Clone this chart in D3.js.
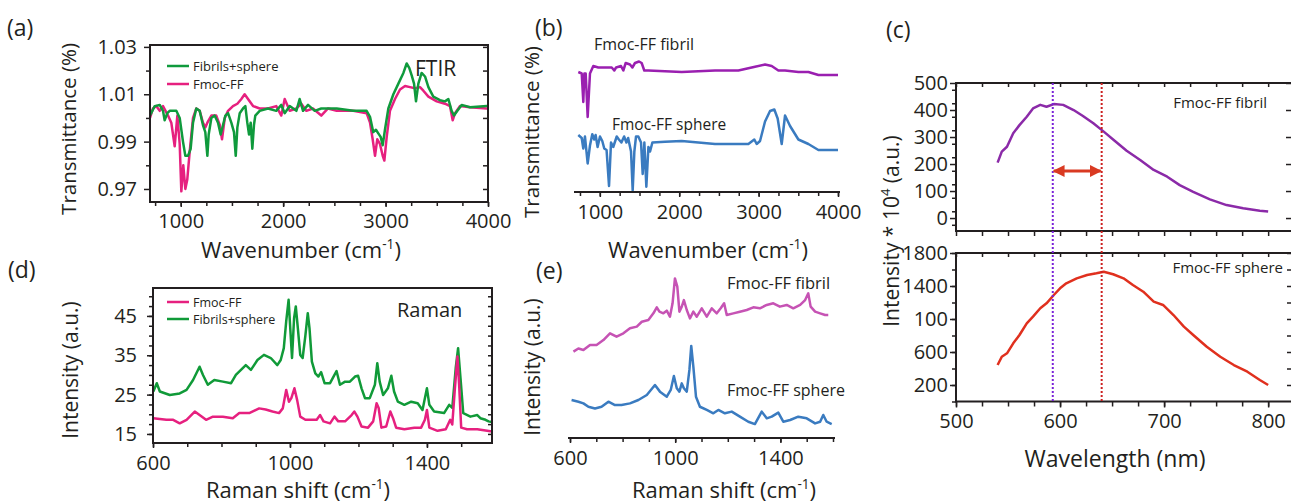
<!DOCTYPE html>
<html>
<head>
<meta charset="utf-8">
<script src="https://cdn.jsdelivr.net/npm/d3@7"></script>
<style>
  body { margin: 0; background: #fff; }
  text { font-family: "Open Sans", sans-serif; fill: #231f20; }
</style>
</head>
<body>
<div id="chart"></div>
<script>
// ---- data ----
// (a) FTIR, wavenumber vs transmittance
const ftirFmoc = [[700,1.000],[729,1.004],[761,1.005],[795,1.003],[827,1.005],[876,1.001],[908,0.998],[941,0.988],[967,1.001],[990,0.989],[1006,0.969],[1025,0.980],[1045,0.970],[1064,0.974],[1088,0.986],[1120,1.000],[1152,1.004],[1185,1.003],[1217,0.998],[1240,0.996],[1260,0.998],[1299,1.001],[1347,1.001],[1381,0.997],[1403,0.991],[1430,1.000],[1462,1.003],[1510,1.005],[1553,1.006],[1592,1.008],[1624,1.010],[1657,1.008],[1706,1.005],[1771,1.004],[1852,1.004],[1933,1.005],[1982,1.001],[2015,1.008],[2064,1.003],[2129,1.004],[2177,1.006],[2226,1.003],[2291,1.004],[2372,1.001],[2438,1.004],[2523,1.003],[2685,1.003],[2815,1.002],[2848,0.998],[2874,0.991],[2897,0.984],[2919,0.991],[2945,0.989],[2972,0.984],[2988,0.982],[3011,0.992],[3043,1.003],[3092,1.008],[3141,1.012],[3190,1.0135],[3238,1.013],[3287,1.0125],[3336,1.013],[3369,1.0115],[3418,1.009],[3499,1.007],[3580,1.006],[3629,1.005],[3655,0.999],[3678,1.002],[3727,1.005],[3824,1.0045],[3987,1.004],[4000,1.004]];
const ftirMix = [[700,1.001],[746,1.005],[795,1.0055],[827,1.003],[843,0.999],[869,1.002],[892,1.003],[924,1.003],[957,1.003],[990,1.000],[1022,0.990],[1045,0.984],[1071,0.984],[1097,0.987],[1120,0.998],[1152,1.004],[1185,1.003],[1217,0.997],[1240,0.994],[1260,0.984],[1273,0.993],[1299,1.000],[1331,1.001],[1364,0.998],[1390,0.993],[1413,0.997],[1436,1.001],[1462,1.002],[1494,0.998],[1520,0.994],[1537,0.984],[1553,0.996],[1576,1.002],[1608,1.004],[1631,1.005],[1650,0.998],[1667,0.993],[1683,0.998],[1699,0.987],[1715,0.997],[1728,1.001],[1771,1.003],[1852,1.004],[1933,1.003],[1982,1.0055],[2015,1.002],[2064,1.005],[2129,1.003],[2161,1.008],[2194,1.003],[2243,1.0055],[2308,1.003],[2372,1.004],[2523,1.004],[2685,1.003],[2815,1.003],[2848,1.0005],[2880,0.994],[2906,0.995],[2929,0.9935],[2952,0.992],[2972,0.9885],[2994,0.995],[3027,1.004],[3076,1.010],[3125,1.0145],[3174,1.019],[3206,1.023],[3232,1.021],[3255,1.018],[3278,1.0145],[3297,1.007],[3320,1.0145],[3352,1.019],[3385,1.0175],[3418,1.013],[3466,1.009],[3531,1.0075],[3580,1.007],[3613,1.008],[3645,1.003],[3668,1.001],[3701,1.003],[3743,1.0055],[3824,1.0045],[3987,1.005],[4000,1.005]];

// (b) FTIR, offset traces (arbitrary units)
const ftirFibril = [[729,0.80],[772,0.79],[792,0.60],[805,0.79],[822,0.79],[847,0.50],[876,0.79],[918,0.84],[981,0.83],[1150,0.83],[1182,0.81],[1205,0.83],[1267,0.84],[1296,0.81],[1326,0.86],[1380,0.85],[1410,0.83],[1443,0.86],[1494,0.87],[1527,0.86],[1560,0.81],[1611,0.81],[2031,0.80],[2451,0.81],[2745,0.81],[2913,0.83],[3081,0.85],[3165,0.84],[3249,0.81],[3333,0.81],[3501,0.80],[3627,0.80],[3753,0.78],[4000,0.78]];
const ftirSphere = [[729,0.38],[772,0.36],[792,0.29],[813,0.37],[847,0.19],[876,0.31],[905,0.385],[930,0.35],[947,0.38],[972,0.30],[1002,0.37],[1031,0.34],[1056,0.29],[1085,0.28],[1116,0.04],[1141,0.33],[1169,0.30],[1213,0.37],[1240,0.35],[1272,0.33],[1306,0.37],[1335,0.33],[1357,0.36],[1393,0.27],[1414,0.01],[1435,0.27],[1456,0.37],[1485,0.37],[1519,0.33],[1540,0.12],[1561,0.33],[1586,0.035],[1612,0.30],[1633,0.27],[1662,0.33],[1821,0.335],[2031,0.34],[2241,0.33],[2451,0.32],[2661,0.32],[2871,0.32],[2946,0.35],[2976,0.32],[3018,0.34],[3081,0.47],[3144,0.54],[3198,0.55],[3240,0.49],[3291,0.32],[3333,0.51],[3396,0.44],[3501,0.35],[3627,0.32],[3753,0.28],[4000,0.28]];

// (c) fluorescence, wavelength (nm) vs intensity
const flFibril = [[540,205],[544,246],[549,264],[555,314],[561,344],[568,375],[574,406],[581,419],[587,412],[594,422],[603,419],[613,400],[622,378],[632,351],[642,320],[651,291],[664,249],[677,215],[690,178],[703,153],[715,122],[728,97],[744,69],[760,48],[776,36],[792,27],[800,24]];
const flSphere = [[540,442],[544,543],[549,584],[555,705],[561,806],[568,948],[574,1028],[581,1130],[587,1190],[594,1291],[600,1372],[606,1433],[616,1493],[626,1533],[635,1554],[642,1573],[651,1542],[661,1493],[670,1412],[680,1331],[690,1210],[699,1170],[709,1048],[719,907],[728,806],[741,664],[754,543],[767,442],[780,361],[792,261],[800,200]];
const peakFibril = 593, peakSphere = 640;

// (d) Raman shift vs intensity
const ramanFmoc = [[601,19.0],[639,18.6],[659,18.6],[678,17.7],[698,18.6],[722,20.7],[736,19.8],[755,18.6],[775,19.4],[804,19.4],[833,19.0],[852,20.3],[881,20.3],[910,21.5],[929,21.2],[949,20.7],[968,20.3],[979,21.5],[989,26.2],[997,23.2],[1004,24.1],[1013,26.6],[1021,23.6],[1030,19.4],[1045,18.6],[1064,18.6],[1078,18.6],[1088,19.8],[1098,18.2],[1117,17.7],[1130,19.4],[1141,18.2],[1161,18.2],[1180,19.8],[1188,20.7],[1197,19.4],[1209,16.9],[1228,16.6],[1243,18.2],[1253,22.8],[1259,21.6],[1267,16.6],[1281,16.9],[1293,20.7],[1301,19.0],[1310,16.6],[1334,16.2],[1363,16.6],[1383,16.6],[1394,18.6],[1400,21.1],[1407,16.6],[1431,15.8],[1455,16.2],[1468,18.6],[1474,17.4],[1481,25.8],[1489,34.7],[1494,27.5],[1500,16.6],[1517,16.2],[1547,16.2],[1576,15.8],[1590,15.6]];
const ramanMix = [[601,25.8],[611,27.9],[620,25.8],[649,24.9],[678,25.3],[698,26.2],[717,28.7],[736,32.1],[746,30.0],[760,27.5],[779,28.7],[804,28.3],[828,27.9],[842,30.0],[871,32.5],[886,31.3],[905,33.8],[924,35.1],[944,34.3],[963,32.5],[973,33.8],[982,36.8],[989,43.6],[996,49.1],[1002,40.2],[1006,34.3],[1012,44.4],[1017,47.4],[1023,41.9],[1030,35.1],[1037,34.3],[1045,40.0],[1052,45.7],[1057,41.9],[1064,33.4],[1074,30.4],[1083,29.6],[1091,30.7],[1101,27.9],[1117,27.9],[1130,30.0],[1136,31.0],[1146,27.5],[1161,28.3],[1175,28.3],[1190,29.6],[1199,29.8],[1209,26.6],[1219,24.1],[1233,24.1],[1248,27.5],[1255,33.0],[1262,28.3],[1272,24.9],[1286,26.6],[1296,29.8],[1304,25.8],[1315,23.2],[1334,22.4],[1354,23.2],[1373,22.8],[1387,21.1],[1400,26.6],[1407,22.4],[1421,20.7],[1450,20.3],[1465,22.4],[1474,21.6],[1484,31.7],[1491,36.8],[1498,29.2],[1506,20.3],[1527,19.4],[1547,19.8],[1556,19.0],[1571,18.6],[1580,18.2],[1590,18.0]];

// (e) Raman, offset traces (arbitrary units)
const ramanFibril = [[613,0.514],[632,0.533],[651,0.524],[676,0.554],[701,0.554],[727,0.583],[752,0.623],[777,0.603],[803,0.623],[828,0.653],[854,0.663],[873,0.692],[898,0.702],[917,0.742],[930,0.778],[940,0.752],[955,0.742],[968,0.758],[980,0.722],[990,0.802],[999,0.950],[1008,0.901],[1016,0.752],[1025,0.782],[1033,0.821],[1044,0.762],[1056,0.712],[1069,0.752],[1082,0.722],[1101,0.772],[1120,0.722],[1139,0.772],[1158,0.742],[1173,0.772],[1186,0.802],[1196,0.732],[1221,0.742],[1246,0.752],[1272,0.762],[1297,0.778],[1322,0.772],[1348,0.792],[1373,0.802],[1398,0.782],[1424,0.792],[1449,0.772],[1475,0.792],[1494,0.821],[1506,0.861],[1515,0.782],[1532,0.752],[1551,0.742],[1570,0.732],[1582,0.732]];
const ramanSphere = [[606,0.226],[632,0.216],[651,0.206],[670,0.186],[695,0.176],[720,0.186],[746,0.216],[771,0.196],[796,0.196],[828,0.206],[860,0.226],[892,0.256],[923,0.315],[942,0.276],[968,0.246],[983,0.286],[995,0.369],[1006,0.296],[1016,0.276],[1025,0.325],[1033,0.296],[1044,0.276],[1054,0.405],[1061,0.548],[1069,0.425],[1079,0.246],[1094,0.186],[1120,0.167],[1145,0.147],[1164,0.167],[1189,0.147],[1215,0.157],[1246,0.127],[1278,0.097],[1303,0.083],[1329,0.157],[1348,0.117],[1367,0.127],[1392,0.151],[1411,0.097],[1437,0.107],[1468,0.127],[1500,0.117],[1532,0.087],[1551,0.097],[1563,0.137],[1576,0.097],[1595,0.083]];

// ---- drawing ----
const ink = "#231f20";
const W = 1291, H = 504;
const fmt = d3.format("d");
const svg = d3.select("#chart").append("svg").attr("width", W).attr("height", H);

const defs = svg.append("defs");
let clipId = 0;
function clip(x0, y0, x1, y1) {
    const id = "clip" + (clipId++);
    defs.append("clipPath").attr("id", id)
        .append("rect").attr("x", x0).attr("y", y0).attr("width", x1 - x0).attr("height", y1 - y0);
    return "url(#" + id + ")";
}

// text with ^{...} superscripts
function label(x, y, str, size, opts = {}) {
    const t = svg.append("text")
        .attr("x", x).attr("y", y)
        .attr("font-size", size)
        .attr("text-anchor", opts.anchor || "start");
    if (opts.rotate) t.attr("transform", `rotate(-90,${x},${y})`);
    str.split(/\^\{|\}/).forEach((p, i) => {
        if (!p) return;
        const s = t.append("tspan").text(p);
        if (i % 2) s.attr("font-size", size * 0.62).attr("baseline-shift", "super");
    });
    return t;
}

function styleAxis(g, size) {
    g.attr("font-family", null).attr("font-size", size);
    g.select(".domain").remove();
    g.selectAll(".tick line").attr("stroke", ink).attr("stroke-width", 1.5);
    g.selectAll(".tick text").attr("fill", ink);
    return g;
}

function trace(data, x, y, color, width, clipUrl) {
    const line = d3.line().x(d => x(d[0])).y(d => y(d[1]));
    const p = svg.append("path").datum(data)
        .attr("d", line)
        .attr("fill", "none")
        .attr("stroke", color)
        .attr("stroke-width", width)
        .attr("stroke-linejoin", "round");
    if (clipUrl) p.attr("clip-path", clipUrl);
    return p;
}

function frame(x0, y0, x1, y1) {
    svg.append("rect").attr("x", x0).attr("y", y0)
        .attr("width", x1 - x0).attr("height", y1 - y0)
        .attr("fill", "none").attr("stroke", ink).attr("stroke-width", 2);
}

function legendRow(x, y, color, text, size) {
    svg.append("line").attr("x1", x).attr("x2", x + 22).attr("y1", y).attr("y2", y)
        .attr("stroke", color).attr("stroke-width", 2.5);
    label(x + 26, y + 5, text, size);
}

// ===== panel (a) =====
{
    const x = d3.scaleLinear([700, 4000], [150, 488]);
    const y = d3.scaleLinear([0.9645, 1.0308], [202, 45]);
    const c = clip(150, 45, 488, 202);
    trace(ftirFmoc, x, y, "#e6207f", 2.5, c);
    trace(ftirMix, x, y, "#0f9a3c", 2.5, c);
    frame(150, 45, 488, 202);

    styleAxis(svg.append("g").attr("transform", "translate(0,202)")
        .call(d3.axisBottom(x).tickValues(d3.range(750, 4001, 250)).tickSize(4).tickFormat("")), 20);
    styleAxis(svg.append("g").attr("transform", "translate(0,202)")
        .call(d3.axisBottom(x).tickValues([1000, 2000, 3000, 4000]).tickSize(5).tickPadding(7).tickFormat(fmt)), 20);
    styleAxis(svg.append("g").attr("transform", "translate(150,0)")
        .call(d3.axisLeft(y).tickValues([0.98, 1.00, 1.02]).tickSize(4).tickFormat("")), 20);
    styleAxis(svg.append("g").attr("transform", "translate(150,0)")
        .call(d3.axisLeft(y).tickValues([0.97, 0.99, 1.01, 1.03]).tickSize(6).tickPadding(7).tickFormat(d3.format(".2f"))), 20);
    styleAxis(svg.append("g").attr("transform", "translate(488,0)")
        .call(d3.axisLeft(y).tickValues(d3.range(0.97, 1.031, 0.01)).tickSize(5).tickFormat("")), 20);

    legendRow(167, 66, "#0f9a3c", "Fibrils+sphere", 13);
    legendRow(167, 84, "#e6207f", "Fmoc-FF", 13);
    label(415, 76, "FTIR", 21);
    label(76, 129, "Transmittance (%)", 20.5, { rotate: true, anchor: "middle" });
    label(301, 258, "Wavenumber (cm^{-1})", 22, { anchor: "middle" });
    label(7, 36, "(a)", 23);
}

// ===== panel (b) =====
{
    const x = d3.scaleLinear([700, 4000], [576, 838]);
    const y = d3.scaleLinear([0, 1], [192, 42]);
    trace(ftirFibril, x, y, "#9a1fb0", 2.5);
    trace(ftirSphere, x, y, "#3a7bc0", 2.5);
    svg.append("line").attr("x1", 574).attr("x2", 840).attr("y1", 192).attr("y2", 192)
        .attr("stroke", ink).attr("stroke-width", 2);
    styleAxis(svg.append("g").attr("transform", "translate(0,192)")
        .call(d3.axisBottom(x).tickValues(d3.range(750, 4001, 250)).tickSize(4).tickFormat("")), 20);
    styleAxis(svg.append("g").attr("transform", "translate(0,192)")
        .call(d3.axisBottom(x).tickValues([1000, 2000, 3000, 4000]).tickSize(5).tickPadding(8).tickFormat(fmt)), 20);

    label(594, 50, "Fmoc-FF fibril", 16);
    label(612, 130, "Fmoc-FF sphere", 15.5);
    label(539, 132, "Transmittance (%)", 20.5, { rotate: true, anchor: "middle" });
    label(708, 258, "Wavenumber (cm^{-1})", 22, { anchor: "middle" });
    label(535, 36, "(b)", 23);
}

// ===== panel (c) =====
{
    const x = d3.scaleLinear([500, 821], [956, 1290]);
    const yTop = d3.scaleLinear([-48, 500], [231, 83]);
    const yBot = d3.scaleLinear([0, 1800], [401.5, 253]);
    const xr = 1292;

    trace(flFibril, x, yTop, "#8b2aa8", 2.5, clip(956, 83, xr, 231));
    trace(flSphere, x, yBot, "#e0301e", 2.5, clip(956, 253, xr, 401.5));
    frame(956, 83, xr, 231);
    frame(956, 253, xr, 401.5);

    // top subplot axes
    styleAxis(svg.append("g").attr("transform", "translate(0,231)")
        .call(d3.axisBottom(x).tickValues(d3.range(500, 821, 25)).tickSize(5).tickFormat("")), 20);
    styleAxis(svg.append("g").attr("transform", "translate(0,83)")
        .call(d3.axisBottom(x).tickValues(d3.range(500, 821, 25)).tickSize(4).tickFormat("")), 20);
    styleAxis(svg.append("g").attr("transform", "translate(956,0)")
        .call(d3.axisLeft(yTop).tickValues(d3.range(-25, 500, 50)).tickSize(4).tickFormat("")), 20);
    styleAxis(svg.append("g").attr("transform", "translate(956,0)")
        .call(d3.axisLeft(yTop).tickValues(d3.range(0, 501, 100)).tickSize(6).tickPadding(2).tickFormat(fmt)), 20);
    styleAxis(svg.append("g").attr("transform", `translate(${xr},0)`)
        .call(d3.axisLeft(yTop).tickValues(d3.range(0, 501, 100)).tickSize(6).tickFormat("")), 20);

    // bottom subplot axes
    styleAxis(svg.append("g").attr("transform", "translate(0,253)")
        .call(d3.axisBottom(x).tickValues(d3.range(500, 821, 25)).tickSize(4).tickFormat("")), 20);
    styleAxis(svg.append("g").attr("transform", "translate(0,401.5)")
        .call(d3.axisBottom(x).tickValues(d3.range(500, 821, 25)).tickSize(5).tickFormat("")), 20);
    styleAxis(svg.append("g").attr("transform", "translate(0,401.5)")
        .call(d3.axisBottom(x).tickValues([500, 600, 700, 800]).tickSize(6).tickPadding(6).tickFormat(fmt)), 20);
    styleAxis(svg.append("g").attr("transform", "translate(956,0)")
        .call(d3.axisLeft(yBot).tickValues(d3.range(0, 1801, 200)).tickSize(4).tickFormat("")), 20);
    const botLabels = { 1800: "1800", 1400: "1400", 1000: "100", 600: "600", 200: "200" };
    styleAxis(svg.append("g").attr("transform", "translate(956,0)")
        .call(d3.axisLeft(yBot).tickValues([200, 600, 1000, 1400, 1800]).tickSize(6).tickPadding(2)
            .tickFormat(d => botLabels[d])), 20);
    styleAxis(svg.append("g").attr("transform", `translate(${xr},0)`)
        .call(d3.axisLeft(yBot).tickValues(d3.range(200, 1801, 200)).tickSize(5).tickFormat("")), 20);

    // peak markers
    [[peakFibril, "#7a22d8"], [peakSphere, "#cc2020"]].forEach(([v, col]) => {
        svg.append("line").attr("x1", x(v)).attr("x2", x(v)).attr("y1", 83).attr("y2", 401.5)
            .attr("stroke", col).attr("stroke-width", 2).attr("stroke-dasharray", "2,2");
    });
    defs.append("marker").attr("id", "arrow").attr("viewBox", "0 0 10 10")
        .attr("refX", 9).attr("refY", 5).attr("markerWidth", 4).attr("markerHeight", 4)
        .attr("orient", "auto-start-reverse")
        .append("path").attr("d", "M0,0L10,5L0,10Z").attr("fill", "#d93a22");
    svg.append("line").attr("x1", x(peakFibril) + 1).attr("x2", x(peakSphere) - 1)
        .attr("y1", 171).attr("y2", 171)
        .attr("stroke", "#d93a22").attr("stroke-width", 3)
        .attr("marker-start", "url(#arrow)").attr("marker-end", "url(#arrow)");

    label(1267, 108, "Fmoc-FF fibril", 15, { anchor: "end" });
    label(1283, 273, "Fmoc-FF sphere", 15, { anchor: "end" });
    label(899, 231, "Intensity * 10^{4} (a.u.)", 21, { rotate: true, anchor: "middle" });
    label(1115, 467, "Wavelength (nm)", 23, { anchor: "middle" });
    label(886, 38, "(c)", 23);
}

// ===== panel (d) =====
{
    const x = d3.scaleLinear([600, 1590], [153, 492]);
    const y = d3.scaleLinear([12.7, 52.1], [443, 288]);
    const c = clip(153, 288, 492, 443);
    trace(ramanMix, x, y, "#109a38", 2.5, c);
    trace(ramanFmoc, x, y, "#e6207f", 2.5, c);
    frame(153, 288, 492, 443);

    styleAxis(svg.append("g").attr("transform", "translate(0,443)")
        .call(d3.axisBottom(x).tickValues(d3.range(600, 1591, 100)).tickSize(4).tickFormat("")), 20);
    styleAxis(svg.append("g").attr("transform", "translate(0,443)")
        .call(d3.axisBottom(x).tickValues([600, 1000, 1400]).tickSize(5).tickPadding(8).tickFormat(fmt)), 20);
    styleAxis(svg.append("g").attr("transform", "translate(153,0)")
        .call(d3.axisLeft(y).tickValues(d3.range(15, 52, 2.5)).tickSize(4).tickFormat("")), 20);
    styleAxis(svg.append("g").attr("transform", "translate(153,0)")
        .call(d3.axisLeft(y).tickValues([15, 25, 35, 45]).tickSize(6).tickPadding(10).tickFormat(fmt)), 20);
    styleAxis(svg.append("g").attr("transform", "translate(492,0)")
        .call(d3.axisLeft(y).tickValues(d3.range(15, 52, 2.5)).tickSize(4).tickFormat("")), 20);

    legendRow(167, 302, "#e6207f", "Fmoc-FF", 12.5);
    legendRow(167, 319, "#109a38", "Fibrils+sphere", 12.5);
    label(397, 317, "Raman", 20);
    label(78, 370, "Intensity (a.u.)", 21, { rotate: true, anchor: "middle" });
    label(298, 498, "Raman shift (cm^{-1})", 22, { anchor: "middle" });
    label(8, 278, "(d)", 23);
}

// ===== panel (e) =====
{
    const x = d3.scaleLinear([600, 1600], [570, 833]);
    const y = d3.scaleLinear([0, 1], [438, 270]);
    trace(ramanFibril, x, y, "#c653b4", 2.5);
    trace(ramanSphere, x, y, "#3a7bc0", 2.5);
    svg.append("line").attr("x1", 568).attr("x2", 835).attr("y1", 438).attr("y2", 438)
        .attr("stroke", ink).attr("stroke-width", 2);
    styleAxis(svg.append("g").attr("transform", "translate(0,438)")
        .call(d3.axisBottom(x).tickValues(d3.range(600, 1601, 100)).tickSize(4).tickFormat("")), 20);
    styleAxis(svg.append("g").attr("transform", "translate(0,438)")
        .call(d3.axisBottom(x).tickValues([600, 1000, 1400]).tickSize(5).tickPadding(8).tickFormat(fmt)), 20);

    label(727, 289, "Fmoc-FF fibril", 16.5);
    label(727, 396, "Fmoc-FF sphere", 16);
    label(540, 367, "Intensity (a.u.)", 21, { rotate: true, anchor: "middle" });
    label(724, 498, "Raman shift (cm^{-1})", 22, { anchor: "middle" });
    label(536, 279, "(e)", 23);
}
</script>
</body>
</html>
